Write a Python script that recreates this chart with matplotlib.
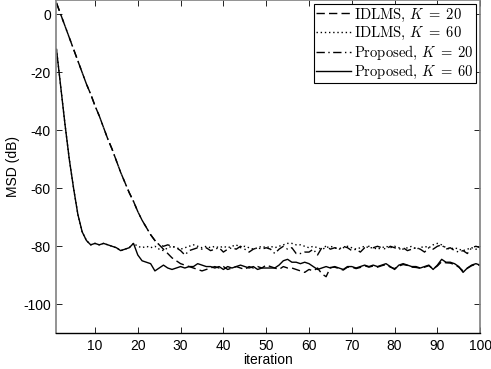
import matplotlib
matplotlib.use("Agg")
import matplotlib.pyplot as plt
import numpy as np

plt.rcParams['font.family'] = ['Liberation Sans', 'DejaVu Sans']
plt.rcParams['mathtext.fontset'] = 'cm'
plt.rcParams['axes.unicode_minus'] = False

iters = np.arange(1, 101)

# shared start of the two K=20 curves (iterations 1..25)
k20_start = [4, 0, -4, -8, -12, -16, -20, -24, -27.5, -31.5,
             -35, -39, -43, -46.5, -50.5, -54.5, -58, -61.5, -64.5, -68,
             -71, -73.5, -76, -78, -79.5]

# shared start of the two K=60 curves (iterations 1..19)
k60_start = [-12, -25, -38, -50, -60, -69, -75, -78, -79.5, -79,
             -79.5, -79, -79.5, -80, -80.5, -81.5, -81, -80.5, -79]

# IDLMS, K=20 tail (iterations 26..100)
idlms20_tail = [-81, -82.5, -84, -85, -86, -86.5, -87, -87.5, -88, -88.5,
                -88, -87.5, -87, -87.5, -87, -88, -87.5, -87, -87.5, -88,
                -87, -87.5, -87, -87.5, -86.5, -87, -87.5, -88, -87, -87.5,
                -87.5, -88, -88.5, -89, -88, -88.5, -87.5, -89.5, -90.5, -87.3,
                -87.2, -87.7, -88.2, -87.2, -87.2, -87.7, -87.3, -86.7, -87.2, -86.8,
                -87.2, -86.7, -86.3, -87.2, -87.7, -86.8, -86.3, -86.6, -87.2, -87.3,
                -87.6, -87.2, -86.7, -87.8, -86.8, -85.3, -85.7, -85.8, -86.3, -87.2,
                -88.5, -87.6, -86.7, -86.2, -86.6]

# IDLMS, K=60 tail (iterations 20..100)
idlms60_tail = [-80, -80.5, -80, -80.5, -80, -81, -81.5, -80.5, -80, -80.5,
                -81, -80.5, -80, -79.5, -80, -80.5, -80, -80.5, -80, -80.5,
                -80, -80.5, -80, -79.5, -80.5, -80, -80.5, -81, -80.5, -80,
                -80.5, -80, -80.5, -80, -79.5, -79, -79, -79.5, -79.5, -80,
                -80.5, -80, -80.5, -81, -80.5, -80, -80.5, -81, -80.5, -80,
                -80.5, -81, -80.5, -80, -80.5, -80.5, -81, -80.5, -80, -80.5,
                -80, -80.5, -81, -80.5, -80, -81, -80.5, -80, -80.5, -79.5,
                -79, -79.5, -80.5, -81, -80.5, -81, -81.5, -81, -80.5, -81,
                -81]

# Proposed, K=20 tail (iterations 26..100)
prop20_tail = [-80, -79.5, -80, -80.5, -81.5, -83, -81.5, -81, -80.5, -81,
               -80.5, -81.5, -81, -80.5, -82, -81, -80.5, -81, -80, -81,
               -82, -81, -80.5, -81, -80.5, -81, -82.5, -81, -80, -81,
               -80.5, -82.5, -82.5, -82, -82, -81, -83, -80.5, -80, -81,
               -80.5, -81, -80, -80.5, -81.5, -81, -82, -80.5, -80, -80.5,
               -80, -80.5, -81, -80, -80.5, -81, -80.5, -81.5, -81, -80.5,
               -81, -82, -80.5, -81, -80, -79.5, -81, -80.5, -81.5, -82,
               -81.5, -82.5, -80.5, -80, -80.5]

# Proposed, K=60 tail (iterations 20..100)
prop60_tail = [-83, -85, -85.5, -86, -88.5, -87.5, -86.5, -87.5, -88, -87.5,
               -87, -87.5, -87, -87, -86, -86.5, -87, -87, -87.5, -87,
               -88, -87, -87.5, -87, -86.5, -87, -87.5, -87, -88, -87.5,
               -87.5, -87.5, -87.5, -86.5, -85, -84.5, -85.5, -85.5, -86, -85.5,
               -86, -87, -88, -87.5, -87, -87.5, -87, -87.5, -88, -87,
               -87, -87.5, -87, -86.5, -87, -86.5, -87, -86.5, -86, -87,
               -88, -86.5, -86, -86.5, -87, -87, -87.5, -87, -86.5, -88,
               -86.5, -84.5, -85.5, -85.5, -86, -87, -89, -87.5, -86.5, -86,
               -86.5]

idlms20 = k20_start + idlms20_tail
idlms60 = k60_start + idlms60_tail
prop20 = k20_start + prop20_tail
prop60 = k60_start + prop60_tail

fig = plt.figure(figsize=(4.91, 3.69), dpi=100)
ax = fig.add_axes([0.115, 0.097, 0.863, 0.903])

ax.plot(iters, idlms20, color='black', lw=1.0, linestyle=(0, (6, 3)),
        label=r'IDLMS, $K\;=\;20$')
ax.plot(iters, idlms60, color='black', lw=1.0, linestyle=(0, (1, 2)),
        label=r'IDLMS, $K\;=\;60$')
ax.plot(iters, prop20, color='black', lw=1.0, linestyle=(0, (6, 2.5, 1, 2.5)),
        label=r'Proposed, $K\;=\;20$')
ax.plot(iters, prop60, color='black', lw=1.0, linestyle='-',
        label=r'Proposed, $K\;=\;60$')

ax.set_xlim(1, 100)
ax.set_ylim(-110, 5)
ax.set_xticks(np.arange(10, 101, 10))
ax.set_yticks(np.arange(-100, 1, 20))
ax.tick_params(direction='in', top=True, right=True, labelsize=10,
               length=4, width=0.6, pad=4)
ax.set_xlabel('iteration', fontsize=10, labelpad=0)
ax.set_ylabel('MSD (dB)', fontsize=10, labelpad=2)

for side in ['left', 'right', 'top']:
    ax.spines[side].set_color('#808080')
    ax.spines[side].set_linewidth(1.2)
ax.spines['bottom'].set_color('black')
ax.spines['bottom'].set_linewidth(1.0)

leg = ax.legend(loc='upper right', prop={'family': 'cmr10', 'size': 10.5},
                handlelength=2.4, handletextpad=0.2, borderpad=0.15,
                labelspacing=0.1, borderaxespad=0.3, fancybox=False,
                framealpha=1.0)
leg.get_frame().set_edgecolor('black')
leg.get_frame().set_linewidth(0.8)

fig.savefig('out.png', dpi=100)
